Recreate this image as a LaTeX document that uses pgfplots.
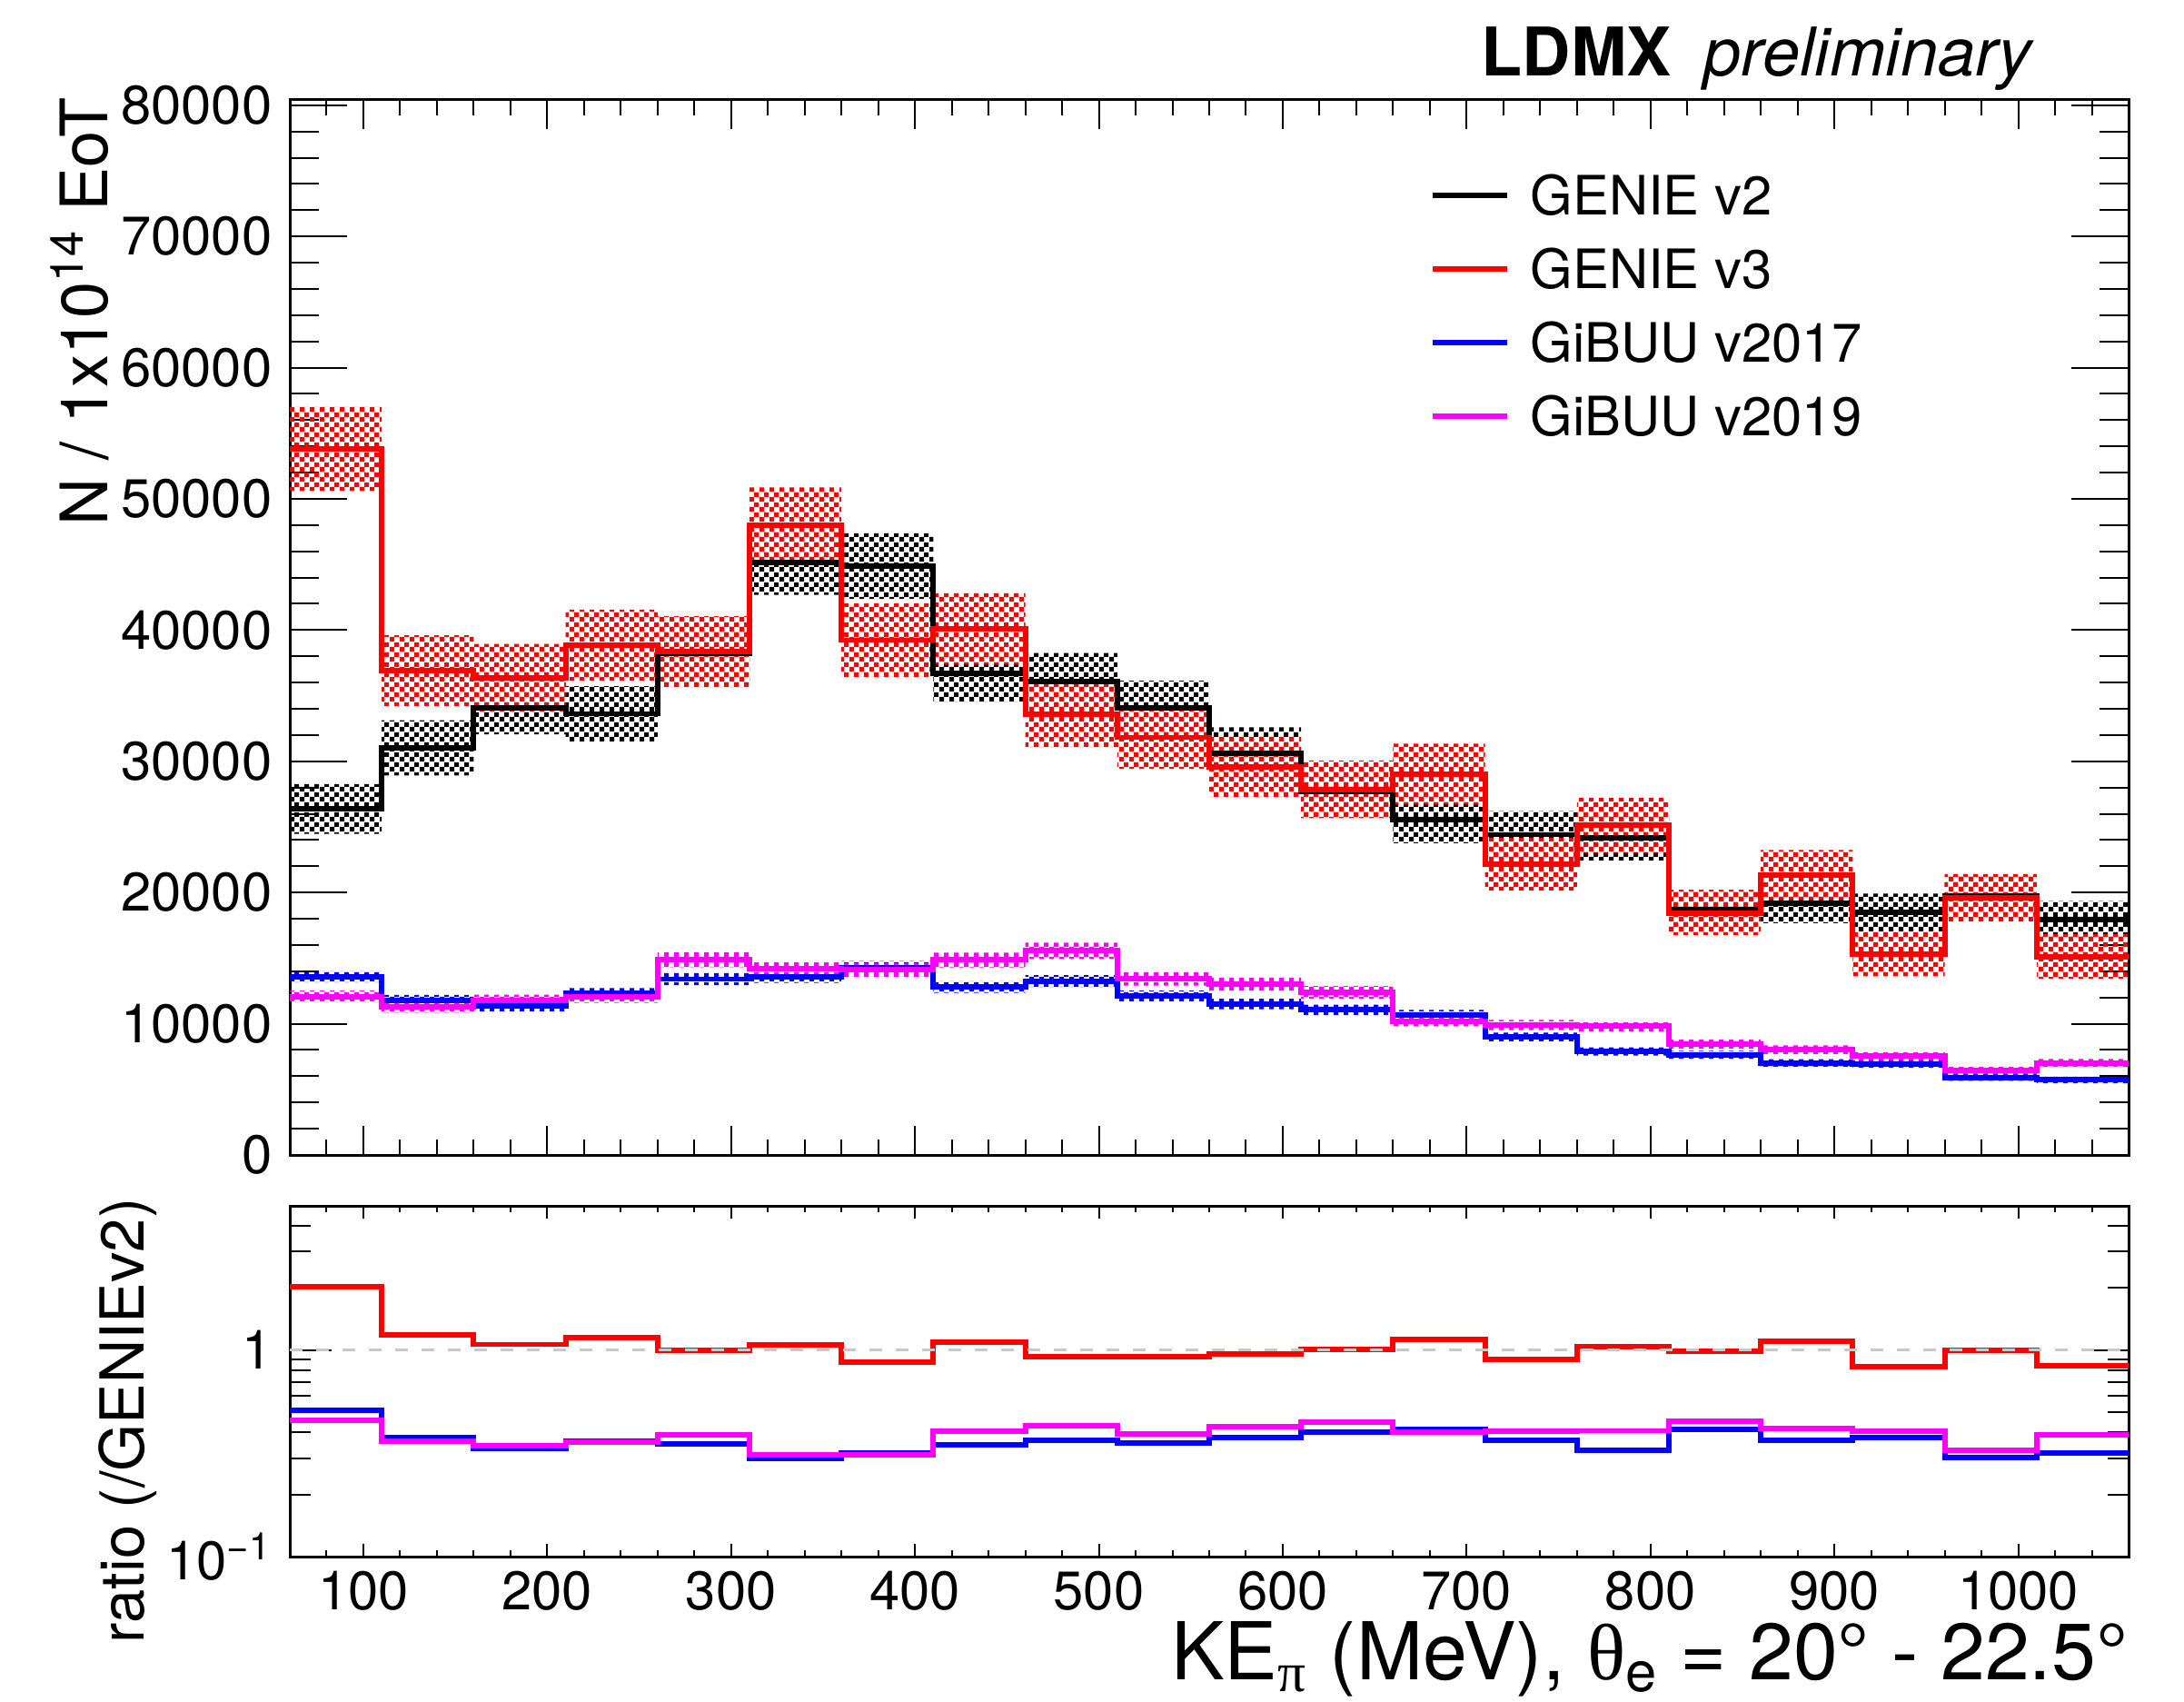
\documentclass[border=0pt]{standalone}
\usepackage{fontspec}
\setmainfont{TeX Gyre Heros}
\newfontfamily\greekfont{Liberation Serif}
\usepackage{pgfplots}
\pgfplotsset{compat=1.18}
\usepackage{pgfplotstable}
\usepgfplotslibrary{fillbetween}
\usetikzlibrary{patterns}

\pgfdeclarepatternformonly{rootcheck}{\pgfqpoint{0pt}{0pt}}{\pgfqpoint{3.13pt}{3.13pt}}{\pgfqpoint{3.13pt}{3.13pt}}{%
  \pgfpathrectangle{\pgfqpoint{0pt}{0pt}}{\pgfqpoint{1.565pt}{1.565pt}}%
  \pgfpathrectangle{\pgfqpoint{1.565pt}{1.565pt}}{\pgfqpoint{1.565pt}{1.565pt}}%
  \pgfusepath{fill}%
}

\definecolor{rootred}{RGB}{255,0,0}
\definecolor{rootblue}{RGB}{0,0,255}
\definecolor{rootmag}{RGB}{255,0,255}
\definecolor{dashgray}{RGB}{200,200,200}

% bin left edges (last row = right edge, repeats last bin)
\pgfplotstableread{
x    v2    v2e  v3    v3e  g17   g17e g19   g19e
60   26370 1900 53800 3200 13570 420  12070 450
110  31020 2100 36910 2700 11790 400  11260 420
160  34060 2000 36350 2600 11330 400  11800 420
210  33620 2100 38860 2700 12300 420  12020 430
260  38200 2300 38360 2700 13400 460  14870 560
310  45180 2500 47970 2900 13570 460  14170 520
360  44870 2500 39230 2800 14300 480  14100 520
410  36700 2200 40110 2700 12800 440  14860 560
460  36050 2200 33580 2500 13250 450  15550 620
510  34040 2100 31820 2400 12100 420  13430 520
560  30590 2000 29570 2300 11500 400  13020 500
610  27720 1900 27870 2200 11060 390  12400 480
660  25560 1800 29040 2300 10670 380  10210 400
710  24410 1800 22160 2000  8990 340   9910 390
760  24150 1700 25120 2100  7880 310   9810 380
810  18700 1500 18450 1700  7640 300   8450 340
860  19170 1500 21340 1900  7010 280   8030 330
910  18470 1450 15320 1700  6940 280   7520 310
960  19750 1500 19610 1800  5900 250   6440 280
1010 17940 1400 15120 1700  5720 250   7010 300
1060 17940 1400 15120 1700  5720 250   7010 300
}\histdata

\pgfplotstableread{
x    r3    r17   r19
60   2.03  0.513 0.456
110  1.18  0.378 0.362
160  1.066 0.335 0.346
210  1.15  0.364 0.358
260  1.0   0.350 0.388
310  1.058 0.300 0.312
360  0.872 0.318 0.312
410  1.09  0.349 0.405
460  0.928 0.366 0.430
510  0.933 0.355 0.393
560  0.962 0.378 0.424
610  1.008 0.400 0.448
660  1.13  0.415 0.400
710  0.905 0.367 0.405
760  1.036 0.327 0.407
810  0.985 0.412 0.452
860  1.10  0.366 0.418
910  0.829 0.376 0.406
960  0.995 0.302 0.328
1010 0.843 0.318 0.390
1060 0.843 0.318 0.390
}\ratiodata

\pgfplotsset{
  rootaxis/.style={
    scale only axis, anchor=south west,
    width=202.4mm,
    xmin=60, xmax=1060,
    xtick={100,200,300,400,500,600,700,800,900,1000},
    minor xtick={80,100,...,1040},
    tick align=inside,
    axis line style={line width=0.3mm},
    every tick/.style={black, line width=0.2mm},
    tick label style={font=\fontsize{17}{20}\selectfont},
    /pgf/number format/assume math mode=true,
    /pgf/number format/1000 sep={},
    scaled ticks=false,
  }
}

\begin{document}
\begin{tikzpicture}
\path (0,0) rectangle (240.4mm,187.2mm);

% ---------------- upper panel ----------------
\begin{axis}[rootaxis,
  at={(31.9mm,60.1mm)}, height=116.1mm,
  ymin=0, ymax=80400,
  ytick={0,10000,20000,30000,40000,50000,60000,70000,80000},
  minor ytick={2000,4000,6000,8000,12000,14000,16000,18000,22000,24000,26000,28000,
    32000,34000,36000,38000,42000,44000,46000,48000,52000,54000,56000,58000,
    62000,64000,66000,68000,72000,74000,76000,78000},
  xticklabels={},
  xtick style={/pgfplots/major tick length=3.2mm,/pgfplots/minor tick length=1.7mm},
  ytick style={/pgfplots/major tick length=6.3mm,/pgfplots/minor tick length=3.2mm},
  yticklabel style={inner sep=0pt, xshift=-1.9mm},
  legend style={at={(0.620,0.928)}, anchor=north west, draw=none, fill=none,
    inner sep=0pt, outer sep=0pt, row sep=3.8mm, column sep=2.3mm,
    font=\fontsize{17}{20}\selectfont,
    nodes={inner sep=0pt, text height=4.3mm, text depth=0mm}},
  legend cell align=left,
  legend image code/.code={\draw[#1, line width=1.7pt] (0mm,0mm) -- (8.2mm,0mm);},
]
% bands
\addplot[const plot, draw=none, name path=v2u, forget plot] table[x=x, y expr=\thisrow{v2}+\thisrow{v2e}]{\histdata};
\addplot[const plot, draw=none, name path=v2l, forget plot] table[x=x, y expr=\thisrow{v2}-\thisrow{v2e}]{\histdata};
\addplot[pattern=rootcheck, pattern color=black, draw=none, forget plot] fill between[of=v2u and v2l];

\addplot[const plot, draw=none, name path=v3u, forget plot] table[x=x, y expr=\thisrow{v3}+\thisrow{v3e}]{\histdata};
\addplot[const plot, draw=none, name path=v3l, forget plot] table[x=x, y expr=\thisrow{v3}-\thisrow{v3e}]{\histdata};
\addplot[pattern=rootcheck, pattern color=rootred, draw=none, forget plot] fill between[of=v3u and v3l];

\addplot[const plot, draw=none, name path=g17u, forget plot] table[x=x, y expr=\thisrow{g17}+\thisrow{g17e}]{\histdata};
\addplot[const plot, draw=none, name path=g17l, forget plot] table[x=x, y expr=\thisrow{g17}-\thisrow{g17e}]{\histdata};
\addplot[pattern=rootcheck, pattern color=rootblue, draw=none, forget plot] fill between[of=g17u and g17l];

\addplot[const plot, draw=none, name path=g19u, forget plot] table[x=x, y expr=\thisrow{g19}+\thisrow{g19e}]{\histdata};
\addplot[const plot, draw=none, name path=g19l, forget plot] table[x=x, y expr=\thisrow{g19}-\thisrow{g19e}]{\histdata};
\addplot[pattern=rootcheck, pattern color=rootmag, draw=none, forget plot] fill between[of=g19u and g19l];

% central lines
\addplot[const plot, black, line width=1.7pt] table[x=x, y=v2]{\histdata};
\addlegendentry{GENIE v2}
\addplot[const plot, rootred, line width=1.7pt] table[x=x, y=v3]{\histdata};
\addlegendentry{GENIE v3}
\addplot[const plot, rootblue, line width=1.7pt] table[x=x, y=g17]{\histdata};
\addlegendentry{GiBUU v2017}
\addplot[const plot, rootmag, line width=1.7pt] table[x=x, y=g19]{\histdata};
\addlegendentry{GiBUU v2019}
\end{axis}

% ---------------- ratio panel ----------------
\begin{axis}[rootaxis,
  at={(31.9mm,15.9mm)}, height=38.6mm,
  ymode=log, ymin=0.1, ymax=5,
  ytick={0.1,1},
  yticklabels={10\textsuperscript{−1},1},
  minor ytick={0.2,0.3,0.4,0.5,0.6,0.7,0.8,0.9,2,3,4,5},
  xtick style={/pgfplots/major tick length=1.4mm,/pgfplots/minor tick length=0.7mm},
  ytick style={/pgfplots/major tick length=4.6mm,/pgfplots/minor tick length=2.3mm},
  yticklabel style={inner sep=0pt, xshift=-1.9mm},
  xticklabel style={inner sep=0pt, yshift=-1.5mm, anchor=north},
]
\addplot[const plot, rootred, line width=1.7pt] table[x=x, y=r3]{\ratiodata};
\addplot[const plot, rootblue, line width=1.7pt] table[x=x, y=r17]{\ratiodata};
\addplot[const plot, rootmag, line width=1.7pt] table[x=x, y=r19]{\ratiodata};
\addplot[dashgray, line width=0.9pt, dash pattern=on 1.4mm off 1.5mm] coordinates {(60,1) (1060,1)};
\end{axis}

% ---------------- texts ----------------
\node[rotate=90, anchor=base east, inner sep=0pt, font=\fontsize{20.5}{24}\selectfont]
  at (11.8mm,176.5mm) {N / 1x10\textsuperscript{14} EoT};
\node[rotate=90, anchor=base east, inner sep=0pt, font=\fontsize{19}{22}\selectfont]
  at (15.8mm,55.4mm) {ratio (/GENIEv2)};
\node[anchor=base east, inner sep=0pt, font=\fontsize{25}{28}\selectfont]
  at (234.3mm,2.4mm) {KE\textsubscript{{\greekfont π}} (MeV), {\greekfont θ}\textsubscript{e} = 20° - 22.5°};
\node[anchor=base west, inner sep=0pt, font=\fontsize{21}{24}\selectfont]
  at (163.0mm,178.8mm) {\textbf{LDMX}\hspace{3.6mm}\textit{preliminary}};
\end{tikzpicture}
\end{document}
